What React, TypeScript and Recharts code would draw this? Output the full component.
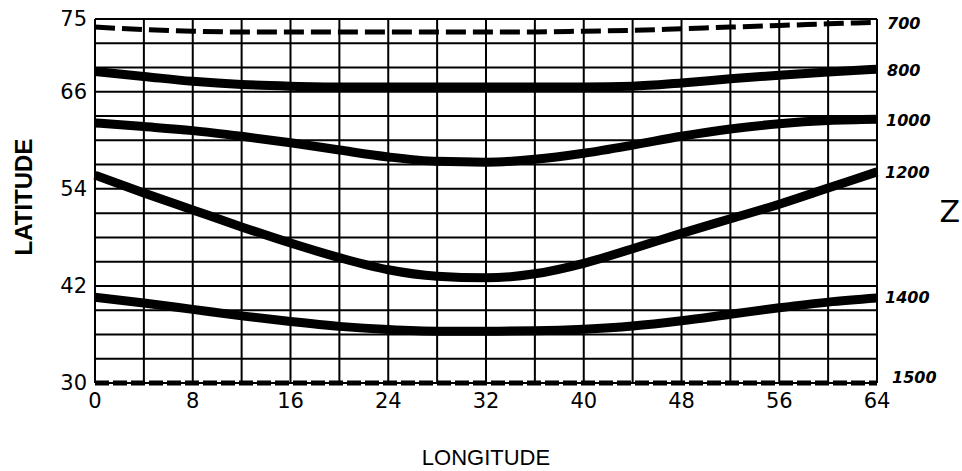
import { LineChart, Line, XAxis, YAxis, CartesianGrid, LabelList } from "recharts";

// longitude stations, every 4 degrees
const LON = [0, 4, 8, 12, 16, 20, 24, 28, 32, 36, 40, 44, 48, 52, 56, 60, 64];
const LON_LABELS = [0, 8, 16, 24, 32, 40, 48, 56, 64];
const LAT_GRID = [30, 33, 36, 39, 42, 45, 48, 51, 54, 57, 60, 63, 66, 69, 72, 75];
const LAT_LABELS = [30, 42, 54, 66, 75];

// latitude of each Z contour
const Z700 = [74.0, 73.7, 73.5, 73.4, 73.4, 73.4, 73.4, 73.4, 73.4, 73.4, 73.5, 73.6, 73.8, 74.0, 74.2, 74.4, 74.6];
const Z800 = [68.5, 67.9, 67.3, 66.9, 66.7, 66.6, 66.6, 66.6, 66.6, 66.6, 66.6, 66.7, 67.1, 67.6, 68.05, 68.45, 68.8];
const Z1000 = [62.15, 61.7, 61.2, 60.5, 59.7, 58.8, 57.95, 57.4, 57.3, 57.65, 58.4, 59.4, 60.5, 61.4, 62.05, 62.45, 62.6];
const Z1200 = [55.7, 53.5, 51.4, 49.3, 47.3, 45.5, 44.0, 43.2, 43.0, 43.5, 44.8, 46.6, 48.5, 50.3, 52.1, 54.1, 56.1];
const Z1400 = [40.6, 39.9, 39.1, 38.3, 37.6, 37.0, 36.6, 36.4, 36.4, 36.45, 36.65, 37.05, 37.7, 38.5, 39.3, 40.0, 40.5];
const Z1500 = [30, 30, 30, 30, 30, 30, 30, 30, 30, 30, 30, 30, 30, 30, 30, 30, 30];

const LEVELS = ["700", "800", "1000", "1200", "1400", "1500"];

const data = LON.map((lon, i) => ({
  lon,
  z700: Z700[i],
  z800: Z800[i],
  z1000: Z1000[i],
  z1200: Z1200[i],
  z1400: Z1400[i],
  z1500: Z1500[i],
}));

const endLabel = (text: string, dx: number, dy: number) => (props: any) => {
  if (props.index !== LON.length - 1) return null;
  return (
    <text
      x={Number(props.x) + dx}
      y={Number(props.y) + dy}
      dominantBaseline="central"
      fontSize={16}
      fontStyle="italic"
      fontWeight="bold"
      fontFamily="DejaVu Sans"
      fill="#000"
    >
      {text}
    </text>
  );
};

const tickFont = { fontSize: 21, fontFamily: "DejaVu Sans", fill: "#000" };

export default function App() {
  return (
    <div style={{ width: 962, height: 471, background: "#fff" }}>
      <style>{"body{margin:0}"}</style>
      <LineChart width={962} height={471} data={data} margin={{ top: 19, right: 0, bottom: 58, left: 0 }}>
        <CartesianGrid stroke="#000" strokeWidth={2} />
        <XAxis
          dataKey="lon"
          type="number"
          domain={[0, 64]}
          ticks={LON}
          interval={0}
          height={30}
          tickSize={0}
          tickMargin={10}
          axisLine={false}
          tick={tickFont}
          tickFormatter={(v) => (LON_LABELS.includes(v) ? String(v) : "")}
          label={{ value: "LONGITUDE", position: "bottom", offset: 36, fontSize: 22, fontFamily: "Liberation Sans", fill: "#000" }}
        />
        <YAxis
          type="number"
          domain={[30, 75]}
          ticks={LAT_GRID}
          interval={0}
          width={95}
          tickSize={0}
          tickMargin={8}
          axisLine={{ stroke: "#000", strokeWidth: 2 }}
          tick={tickFont}
          tickFormatter={(v) => (LAT_LABELS.includes(v) ? String(v) : "")}
          label={{ value: "LATITUDE", angle: -90, position: "center", dx: -24, dy: -4, fontSize: 24, fontWeight: "bold", fontFamily: "Liberation Sans", fill: "#000" }}
        />
        <YAxis
          yAxisId="r"
          orientation="right"
          type="number"
          domain={[30, 75]}
          width={85}
          tick={false}
          axisLine={false}
          tickLine={false}
          label={{ value: "Z", position: "insideRight", offset: 2, dy: 10, fontSize: 30, fontFamily: "DejaVu Sans", fill: "#000" }}
        />
        <Line dataKey="z700" type="monotone" stroke="#000" strokeWidth={5} strokeDasharray="20 7" dot={false} isAnimationActive={false}>
          <LabelList dataKey="z700" content={endLabel(LEVELS[0], 10, 1)} />
        </Line>
        <Line dataKey="z800" type="monotone" stroke="#000" strokeWidth={9} dot={false} isAnimationActive={false}>
          <LabelList dataKey="z800" content={endLabel(LEVELS[1], 10, 1)} />
        </Line>
        <Line dataKey="z1000" type="monotone" stroke="#000" strokeWidth={9} dot={false} isAnimationActive={false}>
          <LabelList dataKey="z1000" content={endLabel(LEVELS[2], 9, 1)} />
        </Line>
        <Line dataKey="z1200" type="monotone" stroke="#000" strokeWidth={9} dot={false} isAnimationActive={false}>
          <LabelList dataKey="z1200" content={endLabel(LEVELS[3], 8, 1)} />
        </Line>
        <Line dataKey="z1400" type="monotone" stroke="#000" strokeWidth={9} dot={false} isAnimationActive={false}>
          <LabelList dataKey="z1400" content={endLabel(LEVELS[4], 8, -1)} />
        </Line>
        <Line dataKey="z1500" type="linear" stroke="#000" strokeWidth={5} strokeDasharray="14 4" dot={false} isAnimationActive={false}>
          <LabelList dataKey="z1500" content={endLabel(LEVELS[5], 15, -6)} />
        </Line>
      </LineChart>
    </div>
  );
}
